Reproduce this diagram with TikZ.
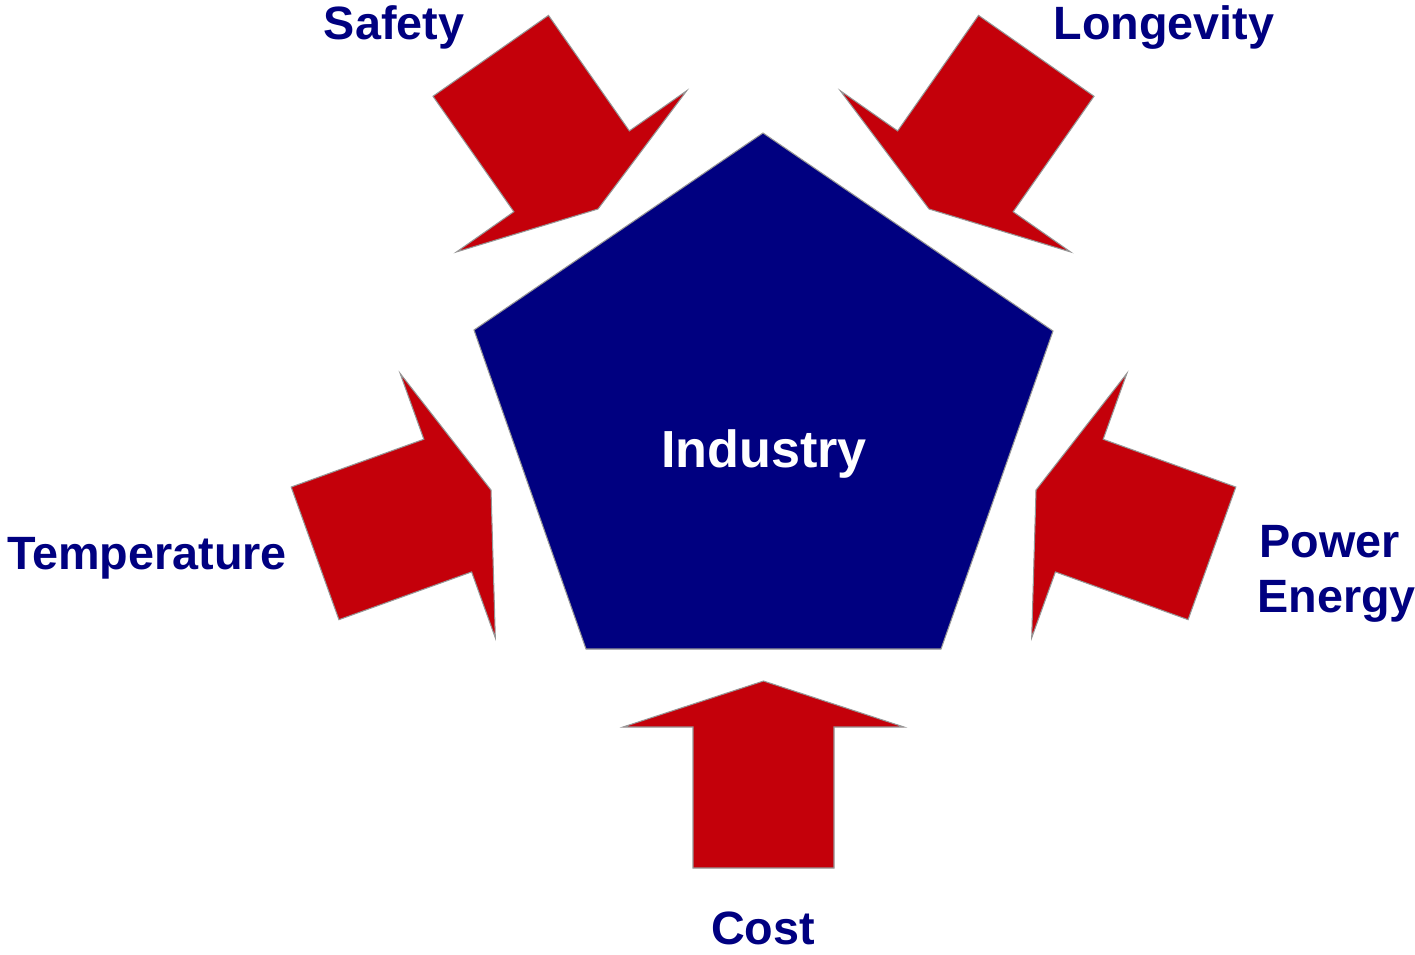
\documentclass[tikz,border=0pt]{standalone}
\usepackage{fontspec}
\setmainfont{Liberation Sans}

\definecolor{navyblue}{RGB}{0,0,128}
\definecolor{arrowred}{RGB}{196,0,10}
\definecolor{edgegray}{RGB}{150,150,150}

\newcommand{\lblfont}{\fontsize{26.6}{31}\selectfont\bfseries}
\newcommand{\hubfont}{\fontsize{29.7}{35}\selectfont\bfseries}

\tikzset{
  redarrow/.style={fill=arrowred, draw=edgegray, line width=0.6pt, line join=miter},
  hubshape/.style={fill=navyblue, draw=edgegray, line width=0.6pt, line join=miter},
  lbl/.style={text=navyblue, font=\lblfont, inner sep=0pt, anchor=base},
}

\begin{document}
\begin{tikzpicture}[x=0.02cm,y=-0.02cm]
      \useasboundingbox (0,0) rectangle (1415,954);

      %%%%%%%%%%%%%%%%%%%%%%%%%%%%%%%%%%%%%%%%%%%%%%%%%%%%%%%%%%%%%%%%%%%%%%%%%%%
      %%%%  Pentagon
      \draw[hubshape] (763,133) -- (1053,331) -- (941,649)
        -- (586,649) -- (474,330) -- cycle;
      \node[text=white, font=\hubfont, inner sep=0pt, anchor=base]
        (industry) at (764,467) {Industry};

      %%%%%%%%%%%%%%%%%%%%%%%%%%%%%%%%%%%%%%%%%%%%%%%%%%%%%%%%%%%%%%%%%%%%%%%%%%%
      %%%%  Arrows (tip x / tip y / turn)
      \foreach \tx/\ty/\rot in
        {598/209/-55, 929/209/-125, 491/490/19.8, 1036/490/160.2, 763.5/681/90}
       {\begin{scope}[shift={(\tx,\ty)},rotate=\rot]
          \draw[redarrow] (0,0) -- (-46,140.5) -- (-46,70.5) -- (-187,70.5)
            -- (-187,-70.5) -- (-46,-70.5) -- (-46,-140.5) -- cycle;
        \end{scope}};

      %%%%%%%%%%%%%%%%%%%%%%%%%%%%%%%%%%%%%%%%%%%%%%%%%%%%%%%%%%%%%%%%%%%%%%%%%%%
      \node[lbl] (safety) at (394,39) {Safety};
      \node[lbl] (longevity) at (1164,39) {Longevity};
      \node[lbl] (temperature) at (147,569) {Temperature};
      \node[lbl, anchor=base west] (power) at (1259,557) {Power};
      \node[lbl, anchor=base west] (energy) at (1257,612) {Energy};
      \node[lbl] (cost) at (763,944) {Cost};
    \end{tikzpicture}
\end{document}
